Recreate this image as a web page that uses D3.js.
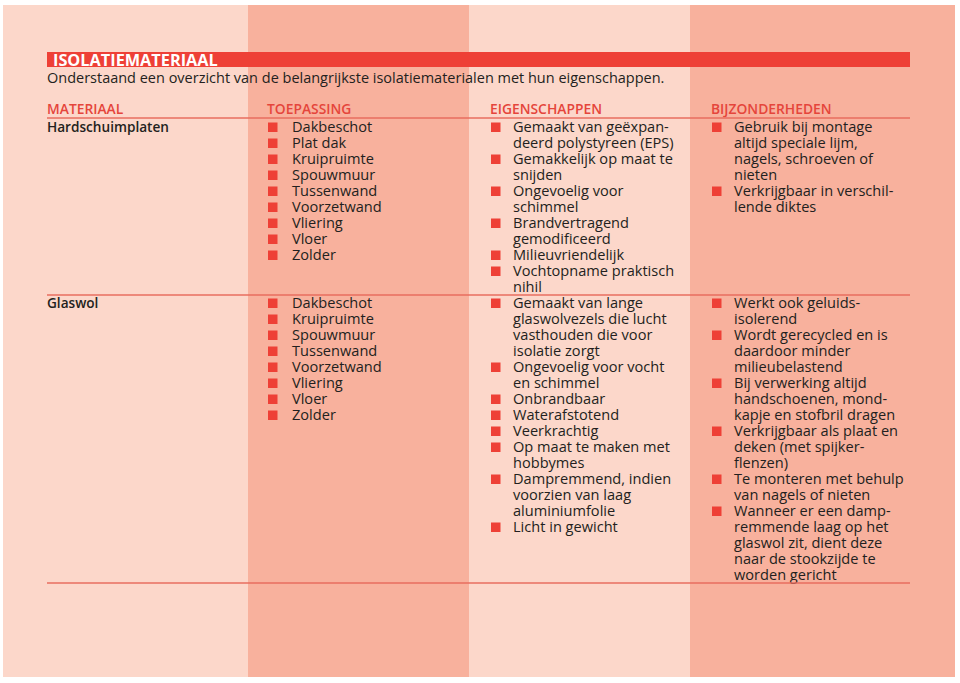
<!DOCTYPE html>
<html>
<head>
<meta charset="utf-8">
<script src="https://cdn.jsdelivr.net/npm/d3@7"></script>
<style>
  body { margin: 0; background: #fff; }
</style>
</head>
<body>
<div id="chart"></div>
<script>
// Isolatiemateriaal overzicht — table drawn with D3
// Four striped columns, two material rows, bulleted lists per cell

const title    = "ISOLATIEMATERIAAL";
const subtitle = "Onderstaand een overzicht van de belangrijkste isolatiematerialen met hun eigenschappen.";
const headers  = ["MATERIAAL", "TOEPASSING", "EIGENSCHAPPEN", "BIJZONDERHEDEN"];
const materials = ["Hardschuimplaten", "Glaswol"];

// each bullet = list of lines, as broken in the original
const toepassing = [
  [["Dakbeschot"], ["Plat dak"], ["Kruipruimte"], ["Spouwmuur"], ["Tussenwand"],
   ["Voorzetwand"], ["Vliering"], ["Vloer"], ["Zolder"]],
  [["Dakbeschot"], ["Kruipruimte"], ["Spouwmuur"], ["Tussenwand"],
   ["Voorzetwand"], ["Vliering"], ["Vloer"], ["Zolder"]]
];

const eigenschappen = [
  [["Gemaakt van geëxpan-", "deerd polystyreen (EPS)"],
   ["Gemakkelijk op maat te", "snijden"],
   ["Ongevoelig voor", "schimmel"],
   ["Brandvertragend", "gemodificeerd"],
   ["Milieuvriendelijk"],
   ["Vochtopname praktisch", "nihil"]],
  [["Gemaakt van lange", "glaswolvezels die lucht", "vasthouden die voor", "isolatie zorgt"],
   ["Ongevoelig voor vocht", "en schimmel"],
   ["Onbrandbaar"],
   ["Waterafstotend"],
   ["Veerkrachtig"],
   ["Op maat te maken met", "hobbymes"],
   ["Dampremmend, indien", "voorzien van laag", "aluminiumfolie"],
   ["Licht in gewicht"]]
];

const bijzonderheden = [
  [["Gebruik bij montage", "altijd speciale lijm,", "nagels, schroeven of", "nieten"],
   ["Verkrijgbaar in verschil-", "lende diktes"]],
  [["Werkt ook geluids-", "isolerend"],
   ["Wordt gerecycled en is", "daardoor minder", "milieubelastend"],
   ["Bij verwerking altijd", "handschoenen, mond-", "kapje en stofbril dragen"],
   ["Verkrijgbaar als plaat en", "deken (met spijker-", "flenzen)"],
   ["Te monteren met behulp", "van nagels of nieten"],
   ["Wanneer er een damp-", "remmende laag op het", "glaswol zit, dient deze",
    "naar de stookzijde te", "worden gericht"]]
];

const width = 960, height = 683;
const FONT = "'Open Sans', 'Noto Sans', sans-serif";

const LIGHT = "#fcd7ca", DARK = "#f8b19d";
const RED = "#ee4036", HEAD = "#e5453b", RULE = "#e86e5f", INK = "#231f20";

// column layout: stripe start, bullet x, text x
const cols = [
  { stripe: 3,   bullet: null, text: 47  },
  { stripe: 248, bullet: 268,  text: 292 },
  { stripe: 469, bullet: 491,  text: 513 },
  { stripe: 690, bullet: 712,  text: 734 }
];
const stripeEnd = 955;
const left = 47, right = 910;

// line index -> baseline
const y = d3.scaleLinear().domain([0, 1]).range([132, 148]);

const svg = d3.select("#chart").append("svg")
  .attr("width", width).attr("height", height);

// ── helper: pick font size so a sample string matches a measured width
function fitSize(sample, target, weight) {
  const t = svg.append("text")
    .style("font-family", FONT).style("font-weight", weight)
    .style("font-size", "100px").text(sample);
  const w = t.node().getComputedTextLength();
  t.remove();
  return 100 * target / w;
}

const bodySize  = fitSize("Gemaakt van geëxpan-", 156, 400);
const headSize  = fitSize("EIGENSCHAPPEN", 112, 600);
const titleSize = fitSize(title, 165, 700);
const subSize   = fitSize(subtitle, 618, 400);
const matSize   = fitSize("Hardschuimplaten", 122, 600);

// BACKGROUND STRIPES
cols.forEach((c, i) => {
  const x1 = i < cols.length - 1 ? cols[i + 1].stripe : stripeEnd;
  svg.append("rect")
    .attr("x", c.stripe).attr("y", 5)
    .attr("width", x1 - c.stripe).attr("height", 672)
    .attr("fill", i % 2 === 0 ? LIGHT : DARK);
});

// TITLE BAR
svg.append("rect")
  .attr("x", left).attr("y", 52)
  .attr("width", right - left).attr("height", 15)
  .attr("fill", RED);

svg.append("text")
  .attr("x", 53).attr("y", 65.5)
  .style("font-family", FONT).style("font-weight", 700)
  .style("font-size", titleSize + "px")
  .attr("fill", "#fff")
  .text(title);

svg.append("text")
  .attr("x", left).attr("y", 83)
  .style("font-family", FONT)
  .style("font-size", subSize + "px")
  .attr("fill", INK)
  .text(subtitle);

// COLUMN HEADERS
headers.forEach((h, i) => {
  svg.append("text")
    .attr("x", i === 0 ? cols[0].text : cols[i].bullet - 1)
    .attr("y", 113.5)
    .style("font-family", FONT).style("font-weight", 600)
    .style("font-size", headSize + "px")
    .attr("fill", HEAD)
    .text(h);
});

function rule(yy) {
  svg.append("line")
    .attr("x1", left).attr("x2", right)
    .attr("y1", yy).attr("y2", yy)
    .attr("stroke", RULE).attr("stroke-width", 1.5);
}
rule(118);

// ROWS
const count = list => d3.sum(list, b => b.length);
let start = 0;

materials.forEach((m, r) => {
  svg.append("text")
    .attr("x", cols[0].text).attr("y", y(start))
    .style("font-family", FONT).style("font-weight", 600)
    .style("font-size", matSize + "px")
    .attr("fill", INK)
    .text(m);

  const cells = [toepassing[r], eigenschappen[r], bijzonderheden[r]];
  cells.forEach((bullets, ci) => {
    const c = cols[ci + 1];
    let line = start;
    bullets.forEach(lines => {
      svg.append("rect")
        .attr("x", c.bullet).attr("y", y(line) - 9.5)
        .attr("width", 9.5).attr("height", 9.5)
        .attr("fill", RED);
      lines.forEach(txt => {
        svg.append("text")
          .attr("x", c.text).attr("y", y(line))
          .style("font-family", FONT)
          .style("font-size", bodySize + "px")
          .attr("fill", INK)
          .text(txt);
        line++;
      });
    });
  });

  const rows = d3.max(cells, count);
  rule(y(start + rows - 1) + 3);
  start += rows;
});
</script>
</body>
</html>
